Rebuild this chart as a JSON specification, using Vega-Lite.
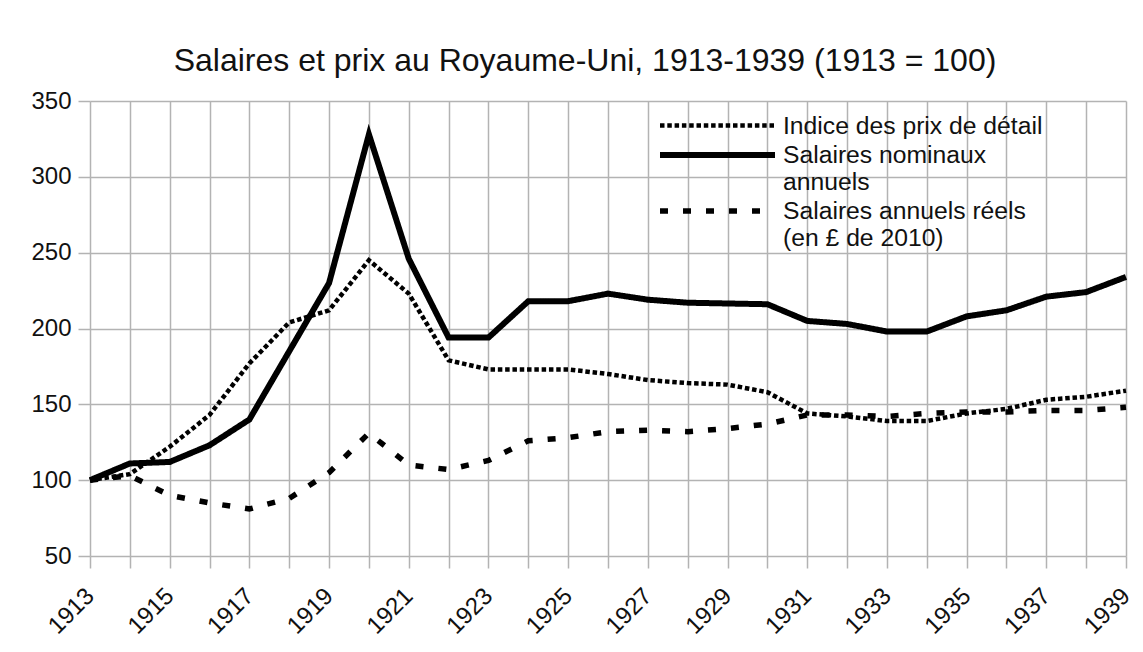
{
  "$schema": "https://vega.github.io/schema/vega-lite/v6.json",
  "width": 1036,
  "height": 455,
  "autosize": {"type": "none"},
  "padding": {"left": 90, "top": 101, "right": 17, "bottom": 96},
  "background": "white",
  "title": {
    "text": "Salaires et prix au Royaume-Uni, 1913-1939 (1913 = 100)",
    "font": "Liberation Sans",
    "fontSize": 32,
    "fontWeight": "normal",
    "color": "#111111",
    "anchor": "middle",
    "dx": -23,
    "offset": 11
  },
  "data": {
    "values": [
      {"year": 1913, "serie": "Indice des prix de détail", "value": 100},
      {"year": 1914, "serie": "Indice des prix de détail", "value": 104},
      {"year": 1915, "serie": "Indice des prix de détail", "value": 122},
      {"year": 1916, "serie": "Indice des prix de détail", "value": 143},
      {"year": 1917, "serie": "Indice des prix de détail", "value": 177},
      {"year": 1918, "serie": "Indice des prix de détail", "value": 204},
      {"year": 1919, "serie": "Indice des prix de détail", "value": 212},
      {"year": 1920, "serie": "Indice des prix de détail", "value": 245},
      {"year": 1921, "serie": "Indice des prix de détail", "value": 223},
      {"year": 1922, "serie": "Indice des prix de détail", "value": 179},
      {"year": 1923, "serie": "Indice des prix de détail", "value": 173},
      {"year": 1924, "serie": "Indice des prix de détail", "value": 173},
      {"year": 1925, "serie": "Indice des prix de détail", "value": 173},
      {"year": 1926, "serie": "Indice des prix de détail", "value": 170},
      {"year": 1927, "serie": "Indice des prix de détail", "value": 166},
      {"year": 1928, "serie": "Indice des prix de détail", "value": 164},
      {"year": 1929, "serie": "Indice des prix de détail", "value": 163},
      {"year": 1930, "serie": "Indice des prix de détail", "value": 158},
      {"year": 1931, "serie": "Indice des prix de détail", "value": 144},
      {"year": 1932, "serie": "Indice des prix de détail", "value": 142},
      {"year": 1933, "serie": "Indice des prix de détail", "value": 139},
      {"year": 1934, "serie": "Indice des prix de détail", "value": 139},
      {"year": 1935, "serie": "Indice des prix de détail", "value": 144},
      {"year": 1936, "serie": "Indice des prix de détail", "value": 147},
      {"year": 1937, "serie": "Indice des prix de détail", "value": 153},
      {"year": 1938, "serie": "Indice des prix de détail", "value": 155},
      {"year": 1939, "serie": "Indice des prix de détail", "value": 159},
      {"year": 1913, "serie": "Salaires nominaux annuels", "value": 100},
      {"year": 1914, "serie": "Salaires nominaux annuels", "value": 111},
      {"year": 1915, "serie": "Salaires nominaux annuels", "value": 112},
      {"year": 1916, "serie": "Salaires nominaux annuels", "value": 123},
      {"year": 1917, "serie": "Salaires nominaux annuels", "value": 140},
      {"year": 1918, "serie": "Salaires nominaux annuels", "value": 185},
      {"year": 1919, "serie": "Salaires nominaux annuels", "value": 230},
      {"year": 1920, "serie": "Salaires nominaux annuels", "value": 328},
      {"year": 1921, "serie": "Salaires nominaux annuels", "value": 246},
      {"year": 1922, "serie": "Salaires nominaux annuels", "value": 194},
      {"year": 1923, "serie": "Salaires nominaux annuels", "value": 194},
      {"year": 1924, "serie": "Salaires nominaux annuels", "value": 218},
      {"year": 1925, "serie": "Salaires nominaux annuels", "value": 218},
      {"year": 1926, "serie": "Salaires nominaux annuels", "value": 223},
      {"year": 1927, "serie": "Salaires nominaux annuels", "value": 219},
      {"year": 1928, "serie": "Salaires nominaux annuels", "value": 217},
      {"year": 1929, "serie": "Salaires nominaux annuels", "value": 216.5},
      {"year": 1930, "serie": "Salaires nominaux annuels", "value": 216},
      {"year": 1931, "serie": "Salaires nominaux annuels", "value": 205},
      {"year": 1932, "serie": "Salaires nominaux annuels", "value": 203},
      {"year": 1933, "serie": "Salaires nominaux annuels", "value": 198},
      {"year": 1934, "serie": "Salaires nominaux annuels", "value": 198},
      {"year": 1935, "serie": "Salaires nominaux annuels", "value": 208},
      {"year": 1936, "serie": "Salaires nominaux annuels", "value": 212},
      {"year": 1937, "serie": "Salaires nominaux annuels", "value": 221},
      {"year": 1938, "serie": "Salaires nominaux annuels", "value": 224},
      {"year": 1939, "serie": "Salaires nominaux annuels", "value": 234},
      {"year": 1913, "serie": "Salaires annuels réels (en £ de 2010)", "value": 100},
      {"year": 1914, "serie": "Salaires annuels réels (en £ de 2010)", "value": 103},
      {"year": 1915, "serie": "Salaires annuels réels (en £ de 2010)", "value": 90},
      {"year": 1916, "serie": "Salaires annuels réels (en £ de 2010)", "value": 85},
      {"year": 1917, "serie": "Salaires annuels réels (en £ de 2010)", "value": 81},
      {"year": 1918, "serie": "Salaires annuels réels (en £ de 2010)", "value": 88},
      {"year": 1919, "serie": "Salaires annuels réels (en £ de 2010)", "value": 105},
      {"year": 1920, "serie": "Salaires annuels réels (en £ de 2010)", "value": 131},
      {"year": 1921, "serie": "Salaires annuels réels (en £ de 2010)", "value": 110},
      {"year": 1922, "serie": "Salaires annuels réels (en £ de 2010)", "value": 107},
      {"year": 1923, "serie": "Salaires annuels réels (en £ de 2010)", "value": 113},
      {"year": 1924, "serie": "Salaires annuels réels (en £ de 2010)", "value": 126},
      {"year": 1925, "serie": "Salaires annuels réels (en £ de 2010)", "value": 128},
      {"year": 1926, "serie": "Salaires annuels réels (en £ de 2010)", "value": 132},
      {"year": 1927, "serie": "Salaires annuels réels (en £ de 2010)", "value": 133},
      {"year": 1928, "serie": "Salaires annuels réels (en £ de 2010)", "value": 132},
      {"year": 1929, "serie": "Salaires annuels réels (en £ de 2010)", "value": 134},
      {"year": 1930, "serie": "Salaires annuels réels (en £ de 2010)", "value": 137},
      {"year": 1931, "serie": "Salaires annuels réels (en £ de 2010)", "value": 143},
      {"year": 1932, "serie": "Salaires annuels réels (en £ de 2010)", "value": 143},
      {"year": 1933, "serie": "Salaires annuels réels (en £ de 2010)", "value": 142},
      {"year": 1934, "serie": "Salaires annuels réels (en £ de 2010)", "value": 144},
      {"year": 1935, "serie": "Salaires annuels réels (en £ de 2010)", "value": 145},
      {"year": 1936, "serie": "Salaires annuels réels (en £ de 2010)", "value": 145},
      {"year": 1937, "serie": "Salaires annuels réels (en £ de 2010)", "value": 146},
      {"year": 1938, "serie": "Salaires annuels réels (en £ de 2010)", "value": 146},
      {"year": 1939, "serie": "Salaires annuels réels (en £ de 2010)", "value": 148}
    ]
  },
  "mark": {"type": "line", "color": "black", "strokeCap": "butt", "strokeJoin": "miter"},
  "encoding": {
    "x": {
      "field": "year",
      "type": "quantitative",
      "scale": {"domain": [1913, 1939], "nice": false, "zero": false},
      "axis": {
        "title": null,
        "values": [1913,1914,1915,1916,1917,1918,1919,1920,1921,1922,1923,1924,1925,1926,1927,1928,1929,1930,1931,1932,1933,1934,1935,1936,1937,1938,1939],
        "format": "d",
        "labelExpr": "(datum.value - 1913) % 2 == 0 ? datum.label : ''",
        "labelAngle": -45,
        "labelAlign": "right",
        "labelBaseline": "middle",
        "labelPadding": 24,
        "labelOverlap": false,
        "labelFlush": false,
        "labelBound": false
      }
    },
    "y": {
      "field": "value",
      "type": "quantitative",
      "scale": {"domain": [50, 350], "nice": false, "zero": false},
      "axis": {
        "title": null,
        "values": [50, 100, 150, 200, 250, 300, 350],
        "labelPadding": 7
      }
    },
    "strokeDash": {
      "field": "serie",
      "type": "nominal",
      "scale": {
        "domain": ["Indice des prix de détail", "Salaires nominaux annuels", "Salaires annuels réels (en £ de 2010)"],
        "range": [[4.5, 2.8], [1, 0], [8, 15]]
      },
      "legend": {
        "title": null,
        "orient": "none",
        "legendX": 667,
        "legendY": 12,
        "padding": 0,
        "rowPadding": 3,
        "symbolType": "M-11,0H0.5",
        "symbolSize": 400,
        "symbolStrokeColor": "black",
        "symbolStrokeWidth": 5,
        "labelOffset": 0,
        "labelLimit": 400,
        "labelFontSize": 24.7,
        "labelFont": "Liberation Sans",
        "labelColor": "#111111",
        "labelBaseline": "alphabetic",
        "labelExpr": "datum.label == 'Salaires nominaux annuels' ? ['Salaires nominaux', 'annuels'] : (datum.label == 'Salaires annuels réels (en £ de 2010)' ? ['Salaires annuels réels', '(en £ de 2010)'] : datum.label)",
        "encode": {
          "labels": {"update": {"lineHeight": {"value": 27}, "dy": {"value": 8}}}
        }
      }
    },
    "strokeWidth": {
      "field": "serie",
      "type": "nominal",
      "scale": {
        "type": "ordinal",
        "domain": ["Indice des prix de détail", "Salaires nominaux annuels", "Salaires annuels réels (en £ de 2010)"],
        "range": [4.5, 6, 5.5]
      },
      "legend": null
    }
  },
  "config": {
    "view": {"stroke": null},
    "axis": {
      "domain": false,
      "grid": true,
      "gridColor": "#b3b3b3",
      "gridWidth": 1.5,
      "tickColor": "#b3b3b3",
      "tickWidth": 1.5,
      "tickSize": 12,
      "labelFont": "Liberation Sans",
      "labelFontSize": 24,
      "labelColor": "#111111"
    }
  }
}
